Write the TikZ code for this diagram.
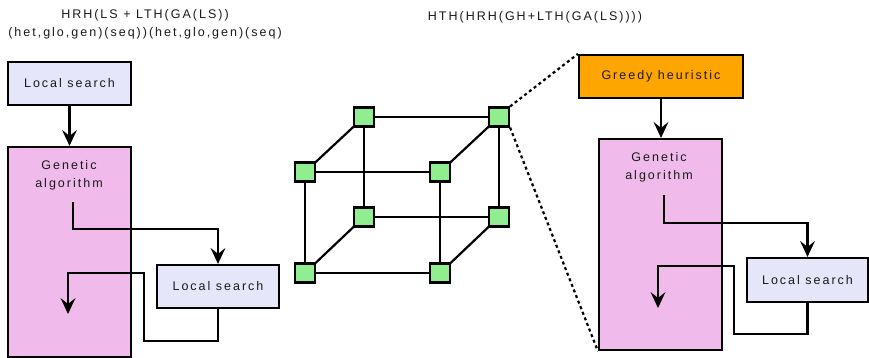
\documentclass[tikz,border=0pt]{standalone}
\usepackage{fontspec}
\setmainfont[LetterSpace=16]{Liberation Sans}
\usetikzlibrary{arrows.meta}
\definecolor{lav}{HTML}{E6E6FA}
\definecolor{pinkga}{HTML}{F0BBEA}
\definecolor{lgreen}{HTML}{90EE90}
\definecolor{orng}{HTML}{FFA500}
\definecolor{txtc}{HTML}{1A1A1A}
\tikzset{arrhead/.tip={Stealth[length=16pt,width=15pt,inset=6pt,line width=0pt]}}
\begin{document}
\begin{tikzpicture}[x=1pt,y=-1pt,
  every node/.style={font=\fontsize{12.5}{18}\selectfont, text=txtc},
  boxbase/.style={draw=black, line width=2.2pt, rectangle, inner sep=0pt},
  lsbox/.style={boxbase, fill=lav},
  gabox/.style={boxbase, fill=pinkga},
  ghbox/.style={boxbase, fill=orng},
  cubenode/.style={boxbase, fill=lgreen, minimum width=20pt, minimum height=19pt},
  arr/.style={line width=2.2pt, -arrhead},
  edge/.style={line width=2.2pt},
  dotl/.style={line width=2.2pt, dash pattern=on 3pt off 3pt}
]
\useasboundingbox (0,0) rectangle (869,358);

% titles
\node[align=center] (t1) at (145,24) {HRH(LS + LTH(GA(LS))\\(het,glo,gen)(seq))(het,glo,gen)(seq)};
\node (t2) at (535,17) {HTH(HRH(GH+LTH(GA(LS))))};

% left hybrid
\node[lsbox, minimum width=123pt, minimum height=43pt] (ls1) at (69.5,83.5) {Local search};
\node[gabox, minimum width=123pt, minimum height=210pt] (ga1) at (69.5,252) {};
\node[align=center] (ga1t) at (69,175) {Genetic\\algorithm};
\node[lsbox, minimum width=122pt, minimum height=43pt] (ls2) at (218,286.5) {Local search};
\draw[arr] (ls1.south) -- (ga1.north);
\coordinate (g1s) at (73,202);
\coordinate (g1e) at (68,314);
\draw[arr] (g1s) -- (73,229) -| (ls2.north);
\draw[arr] (ls2.south) |- (144,341) |- (68,273) -- (g1e);

% cube edges
\coordinate (cbtl) at (364,117);
\coordinate (cbtr) at (499,117);
\coordinate (cftl) at (305,172);
\coordinate (cftr) at (440,172);
\coordinate (cbbl) at (364,217);
\coordinate (cbbr) at (499,217);
\coordinate (cfbl) at (305,273);
\coordinate (cfbr) at (440,273);
\draw[edge] (cbtl) -- (cbtr);
\draw[edge] (cbtl) -- (cbbl);
\draw[edge] (cbtr) -- (cbbr);
\draw[edge] (cbbl) -- (cbbr);
\draw[edge] (cftl) -- (cftr);
\draw[edge] (cftl) -- (cfbl);
\draw[edge] (cftr) -- (cfbr);
\draw[edge] (cfbl) -- (cfbr);
\draw[edge] (cftl) -- (cbtl);
\draw[edge] (cftr) -- (cbtr);
\draw[edge] (cfbl) -- (cbbl);
\draw[edge] (cfbr) -- (cbbr);
% cube nodes
\node[cubenode] (btl) at (cbtl) {};
\node[cubenode] (btr) at (cbtr) {};
\node[cubenode] (ftl) at (cftl) {};
\node[cubenode] (ftr) at (cftr) {};
\node[cubenode] (bbl) at (cbbl) {};
\node[cubenode] (bbr) at (cbbr) {};
\node[cubenode] (fbl) at (cfbl) {};
\node[cubenode] (fbr) at (cfbr) {};

% right hybrid
\node[ghbox, minimum width=164pt, minimum height=43pt] (gh) at (661,76.5) {Greedy heuristic};
\node[gabox, minimum width=123pt, minimum height=211pt] (ga2) at (660.5,244.5) {};
\node[align=center] (ga2t) at (659,167.5) {Genetic\\algorithm};
\node[lsbox, minimum width=121pt, minimum height=44pt] (ls3) at (807.5,280) {Local search};
\draw[arr] (gh.south) -- (gh.south |- ga2.north);
\coordinate (g2s) at (664,195);
\coordinate (g2e) at (658,308);
\draw[arr] (g2s) -- (664,223) -| (ls3.north);
\draw[arr] (ls3.south) |- (734,334) |- (658,266) -- (g2e);

% zoom lines
\draw[dotl] (btr.north east) -- (gh.north west);
\draw[dotl] (btr.south east) -- (ga2.south west);
\end{tikzpicture}
\end{document}
